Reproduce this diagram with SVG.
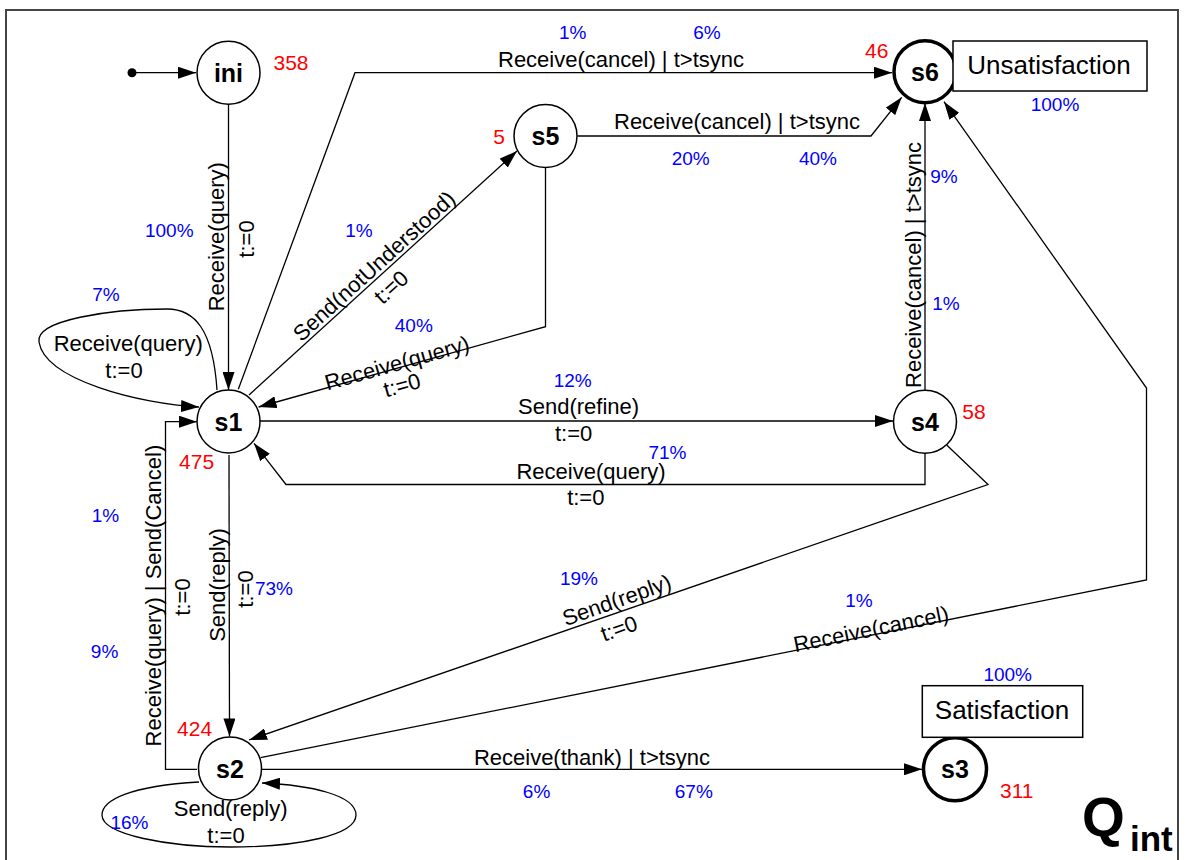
<svg xmlns="http://www.w3.org/2000/svg" width="1189" height="860" viewBox="0 0 1189 860">
<defs>
<marker id="a" markerWidth="18" markerHeight="12" refX="18" refY="6" orient="auto" markerUnits="userSpaceOnUse"><path d="M0,0 L18,6 L0,12 z" fill="#000"/></marker>
<style>
.e{fill:none;stroke:#000;stroke-width:1.3}
.n{fill:#fff;stroke:#000;stroke-width:1.5}
.f{fill:#fff;stroke:#000;stroke-width:3.5}
text{font-family:"Liberation Sans",Arial,sans-serif}
.l{font-size:22px;fill:#000;text-anchor:middle}
.nl{font-size:25px;font-weight:bold;text-anchor:middle}
.p{font-size:19px;fill:#0000ff;text-anchor:middle}
.c{font-size:21px;fill:#ff0000;text-anchor:middle}
.b{font-size:26px;text-anchor:middle}
</style>
</defs>
<rect width="1189" height="860" fill="#fff"/>
<path d="M6,870 L6,10 L1178,10 L1178,870" fill="none" stroke="#444" stroke-width="2"/>

<g id="connectors">
<circle cx="132" cy="72.7" r="4.5" fill="#000"/>
<path class="e" d="M132,72.7 L196,72.7" marker-end="url(#a)"/>
<path class="e" d="M228.5,104 L228.5,390" marker-end="url(#a)"/>
<path class="e" d="M217,390 C213,330 195,309 167,309 C110,309 35,320 39,342 C45,380 140,404 199,407" marker-end="url(#a)"/>
<path class="e" d="M238.3,389.3 L355,72.7 L892,72.7" marker-end="url(#a)"/>
<path class="e" d="M249,395 L517,151" marker-end="url(#a)"/>
<path class="e" d="M545.5,168 L545.5,326.7 L258.6,407" marker-end="url(#a)"/>
<path class="e" d="M577.5,136 L871,136 L901.7,97.3" marker-end="url(#a)"/>
<path class="e" d="M260,421 L893,421" marker-end="url(#a)"/>
<path class="e" d="M925,453 L925,484.5 L286,484.5 L254,443.3" marker-end="url(#a)"/>
<path class="e" d="M925,390 L925,103" marker-end="url(#a)"/>
<path class="e" d="M946.7,445 L988,484.5 L249,740" marker-end="url(#a)"/>
<path class="e" d="M260.5,757.7 L1146.5,580 L1146.5,388 L944,101.7" marker-end="url(#a)"/>
<path class="e" d="M229,455 L229.5,736.5" marker-end="url(#a)"/>
<path class="e" d="M197,769.3 L165.5,769.3 L165.5,421.7 L197,421.7" marker-end="url(#a)"/>
<path class="e" d="M199,782 C130,786 102,800 102,815 C102,835 170,847 230,847 C300,847 356,835 356,815 C356,795 310,785 262,783" marker-end="url(#a)"/>
<path class="e" d="M261.5,769.3 L922,769.3" marker-end="url(#a)"/>
</g>

<g id="edge-labels">
<text class="l" x="621" y="67">Receive(cancel) | t&gt;tsync</text>
<text class="l" x="737" y="129">Receive(cancel) | t&gt;tsync</text>
<text class="l" x="578.6" y="413.5">Send(refine)</text>
<text class="l" x="573.6" y="441">t:=0</text>
<text class="l" x="591" y="478.5">Receive(query)</text>
<text class="l" x="585.8" y="505">t:=0</text>
<text class="l" x="592" y="764.7">Receive(thank) | t&gt;tsync</text>
<text class="l" x="128.3" y="350.5">Receive(query)</text>
<text class="l" x="124" y="377.5">t:=0</text>
<text class="l" x="230.6" y="815.5">Send(reply)</text>
<text class="l" x="226" y="843">t:=0</text>
<text class="l" transform="translate(224,236.7) rotate(-90)">Receive(query)</text>
<text class="l" transform="translate(253.5,239) rotate(-90)">t:=0</text>
<text class="l" transform="translate(225,585) rotate(-90)">Send(reply)</text>
<text class="l" transform="translate(252.5,589) rotate(-90)">t:=0</text>
<text class="l" transform="translate(160.5,595.6) rotate(-90)">Receive(query) | Send(Cancel)</text>
<text class="l" transform="translate(189.5,597) rotate(-90)">t:=0</text>
<text class="l" transform="translate(921,265) rotate(-90)">Receive(cancel) | t&gt;tsync</text>
<text class="l" transform="translate(374,266) rotate(-42.3)" y="7.7">Send(notUnderstood)</text>
<text class="l" transform="translate(391,287) rotate(-42.3)" y="7.7">t:=0</text>
<text class="l" transform="translate(397,363) rotate(-15.6)" y="7.7">Receive(query)</text>
<text class="l" transform="translate(402,385) rotate(-15.6)" y="7.7">t:=0</text>
<text class="l" transform="translate(616.7,600) rotate(-19.5)" y="7.7">Send(reply)</text>
<text class="l" transform="translate(619,628.3) rotate(-19.5)" y="7.7">t:=0</text>
<text class="l" transform="translate(871,629) rotate(-11.5)" y="7.7">Receive(cancel)</text>
</g>

<g id="percentages">
<text class="p" x="572.7" y="38.5">1%</text>
<text class="p" x="707" y="39">6%</text>
<text class="p" x="1055" y="111">100%</text>
<text class="p" x="690.7" y="165">20%</text>
<text class="p" x="818" y="165">40%</text>
<text class="p" x="944" y="183">9%</text>
<text class="p" x="946" y="310">1%</text>
<text class="p" x="169.3" y="237">100%</text>
<text class="p" x="359" y="237">1%</text>
<text class="p" x="413.8" y="332">40%</text>
<text class="p" x="106" y="301">7%</text>
<text class="p" x="572.7" y="387">12%</text>
<text class="p" x="667.4" y="459">71%</text>
<text class="p" x="579" y="585">19%</text>
<text class="p" x="859" y="607">1%</text>
<text class="p" x="1007.7" y="681">100%</text>
<text class="p" x="536.6" y="798">6%</text>
<text class="p" x="693.8" y="798">67%</text>
<text class="p" x="274" y="595">73%</text>
<text class="p" x="105.4" y="522">1%</text>
<text class="p" x="104.6" y="658">9%</text>
<text class="p" x="129.5" y="829">16%</text>
</g>

<g id="node-ini"><circle class="n" cx="228.5" cy="72.7" r="31.5"/><text class="nl" x="228.5" y="81.7">ini</text><text class="c" x="291" y="70">358</text></g>
<g id="node-s1"><circle class="n" cx="228.5" cy="421.5" r="31.5"/><text class="nl" x="228.5" y="430.5">s1</text><text class="c" x="196.6" y="469">475</text></g>
<g id="node-s2"><circle class="n" cx="230" cy="768.5" r="31.5"/><text class="nl" x="230" y="777.5">s2</text><text class="c" x="194.6" y="735.5">424</text></g>
<g id="node-s3"><circle class="f" cx="955" cy="769.3" r="31.5"/><text class="nl" x="955" y="778.3">s3</text><text class="c" x="1016.7" y="798">311</text></g>
<g id="node-s4"><circle class="n" cx="925" cy="421.7" r="31.5"/><text class="nl" x="925" y="430.7">s4</text><text class="c" x="974" y="419">58</text></g>
<g id="node-s5"><circle class="n" cx="545.5" cy="136" r="31.5"/><text class="nl" x="545.5" y="145">s5</text><text class="c" x="499" y="143.5">5</text></g>
<g id="node-s6"><circle class="f" cx="925" cy="71.7" r="31"/><text class="nl" x="925" y="80.7">s6</text><text class="c" x="876.7" y="57.5">46</text></g>
<g id="box-unsatisfaction"><rect x="953" y="41" width="194" height="50" fill="#fff" stroke="#000" stroke-width="1.5"/><text class="b" x="1049" y="73.6">Unsatisfaction</text></g>
<g id="box-satisfaction"><rect x="922.3" y="685.7" width="160.4" height="51.6" fill="#fff" stroke="#000" stroke-width="1.5"/><text class="b" x="1002" y="719.3">Satisfaction</text></g>
<g id="title"><text x="1082" y="836" font-size="55" font-weight="bold">Q</text><text x="1130" y="851" font-size="35" font-weight="bold">int</text></g>
</svg>
